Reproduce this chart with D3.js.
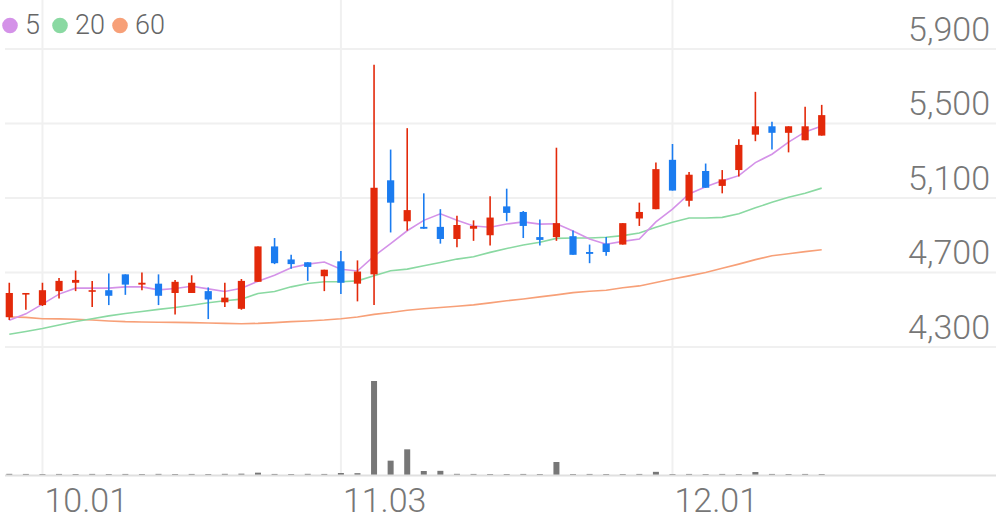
<!DOCTYPE html>
<html><head><meta charset="utf-8">
<script src="https://cdn.jsdelivr.net/npm/d3@7"></script>
<style>
html,body{margin:0;padding:0;background:#fff;}
svg{display:block;font-family:Roboto,"Noto Sans",sans-serif;}
svg text{font-family:Roboto,"Noto Sans",sans-serif;}
</style></head>
<body><svg id="c" width="996" height="519"></svg>
<script>
const dates = ["09.29","09.30","10.01","10.02","10.10","10.13","10.14","10.15","10.16","10.17",
"10.20","10.21","10.22","10.23","10.24","10.27","10.28","10.29","10.30","10.31",
"11.03","11.04","11.05","11.06","11.07","11.10","11.11","11.12","11.13","11.14",
"11.17","11.18","11.19","11.20","11.21","11.24","11.25","11.26","11.27","11.28",
"12.01","12.02","12.03","12.04","12.05","12.08","12.09","12.10","12.11","12.12"];
const openP  = [4460,4585,4525,4600,4645,4600,4605,4690,4635,4640,4590,4590,4600,4540,4505,4650,4840,4770,4755,4680,4760,4640,4690,5195,4975,4945,4945,4880,4935,4900,5055,5025,4890,4890,4895,4810,4855,4850,4990,5040,5305,5085,5245,5165,5250,5440,5485,5450,5410,5435];
const highP  = [4645,4590,4645,4670,4710,4655,4695,4690,4700,4690,4660,4685,4620,4645,4665,4840,4885,4795,4755,4715,4815,4765,5815,5360,5475,5125,5040,5005,4980,5110,5150,5030,4985,5370,4925,4850,4890,4965,5075,5290,5390,5240,5285,5250,5415,5670,5510,5485,5590,5600];
const lowP   = [4445,4500,4520,4560,4600,4515,4525,4580,4605,4525,4475,4590,4450,4515,4500,4650,4745,4720,4655,4600,4585,4545,4525,4915,4925,4935,4855,4835,4870,4845,4975,4885,4845,4870,4795,4750,4790,4850,4950,5040,5140,5055,5155,5125,5215,5405,5360,5345,5410,5435];
const closeP = [4590,4590,4605,4655,4660,4605,4575,4635,4645,4575,4650,4645,4555,4565,4655,4840,4750,4745,4730,4715,4645,4705,5155,5075,5035,4935,4880,4955,4950,4995,5020,4950,4875,4965,4795,4800,4810,4965,5025,5255,5140,5225,5155,5200,5385,5485,5450,5485,5485,5545];
const volume = [35000,32000,30000,32000,30000,33000,30000,32000,30000,34000,30000,32000,30000,35000,40000,70000,32000,30000,35000,32000,60000,55000,2820000,430000,770000,120000,125000,35000,32000,30000,30000,32000,30000,390000,30000,32000,30000,30000,32000,95000,30000,32000,30000,32000,30000,90000,32000,30000,32000,30000];
const ma5  = [4444,4478,4530,4584,4616,4616,4616,4623,4623,4607,4614,4626,4612,4598,4615,4653,4685,4725,4745,4756,4717,4708,4788,4855,4924,4980,5015,4980,4950,4943,4960,4972,4960,4962,4923,4880,4852,4867,4880,4972,5040,5122,5160,5192,5220,5290,5335,5400,5455,5487];
const ma20 = [4368,4383,4399,4418,4437,4452,4467,4480,4491,4502,4512,4524,4538,4548,4557,4587,4598,4623,4641,4650,4650,4655,4682,4709,4718,4736,4754,4772,4785,4808,4829,4848,4862,4883,4885,4885,4889,4898,4912,4943,4970,4993,4993,4996,5015,5047,5077,5104,5126,5153];
const ma60 = [4461,4459,4452,4451,4449,4445,4440,4436,4434,4433,4432,4431,4429,4427,4425,4427,4431,4436,4440,4445,4452,4461,4475,4485,4497,4505,4512,4519,4526,4537,4548,4558,4569,4580,4592,4599,4605,4618,4628,4646,4665,4682,4700,4723,4745,4769,4790,4801,4812,4822];
const priceTicks = [4300,4700,5100,5500,5900];
const dateTicks = ["10.01","11.03","12.01"];
const legendItems = [{label:"5",color:"#d492e8"},{label:"20",color:"#8ad9a2"},{label:"60",color:"#f7a078"}];

const UP = "#e3290a", DOWN = "#1b7cf0";
const FONT = 'Roboto, "Noto Sans", sans-serif';
const svg = d3.select("#c");
const x = d3.scaleBand().domain(dates).range([1, 830]).padding(0);
const cx = d => x(d) + x.bandwidth()/2;
const y = d3.scaleLinear().domain([4300, 5900]).range([347, 49]);
const vy = d3.scaleLinear().domain([0, d3.max(volume)]).range([475, 381]);

const data = dates.map((d,i)=>({d, o:openP[i], h:highP[i], l:lowP[i], c:closeP[i], v:volume[i]}));

// grid
const g = svg.append("g");
g.selectAll("line.h").data(priceTicks).join("line")
  .attr("x1",5).attr("x2",996).attr("y1",d=>y(d)).attr("y2",d=>y(d))
  .attr("stroke","#f0f0f0").attr("stroke-width",2);
g.selectAll("line.v").data(dateTicks).join("line")
  .attr("x1",d=>cx(d)).attr("x2",d=>cx(d)).attr("y1",0).attr("y2",475)
  .attr("stroke","#f0f0f0").attr("stroke-width",2);

// volume
svg.append("g").selectAll("rect").data(data).join("rect")
  .attr("x",d=>cx(d.d)-3).attr("width",6)
  .attr("y",d=>vy(d.v)).attr("height",d=>475-vy(d.v))
  .attr("fill","#777");
svg.append("line").attr("x1",5).attr("x2",996).attr("y1",475.5).attr("y2",475.5)
  .attr("stroke","#e0e0e0").attr("stroke-width",2);

// MA lines
const line = arr => d3.line().x((v,i)=>cx(dates[i])).y(v=>y(v))(arr);
[[ma60,legendItems[2].color],[ma20,legendItems[1].color],[ma5,legendItems[0].color]].forEach(([arr,col])=>{
  svg.append("path").attr("d",line(arr)).attr("fill","none").attr("stroke",col).attr("stroke-width",1.6);
});

// candles
const cg = svg.append("g").selectAll("g").data(data).join("g");
cg.append("line").attr("x1",d=>cx(d.d)).attr("x2",d=>cx(d.d))
  .attr("y1",d=>y(d.h)).attr("y2",d=>y(d.l))
  .attr("stroke",d=>d.c>=d.o?UP:DOWN).attr("stroke-width",1.6);
cg.append("rect").attr("x",d=>cx(d.d)-3.6).attr("width",7.2)
  .attr("y",d=>y(Math.max(d.o,d.c)))
  .attr("height",d=>Math.max(1.6, Math.abs(y(d.o)-y(d.c))))
  .attr("fill",d=>d.c>=d.o?UP:DOWN);

// y axis
const ya = svg.append("g").attr("transform","translate(990,0)")
  .call(d3.axisRight(y).tickValues(priceTicks).tickFormat(d3.format(",")).tickSize(0))
  .attr("font-family",null).attr("font-size",null);
ya.select(".domain").remove();
ya.selectAll("text").attr("x",0).attr("dy","-9").attr("text-anchor","end")
  .attr("fill","#777").style("font-family",FONT).style("font-size","34px").style("font-weight","300")
  .attr("y",0);

// x axis
const xa = svg.append("g").attr("transform","translate(0,475)")
  .call(d3.axisBottom(x).tickValues(dateTicks).tickSize(0))
  .attr("font-family",null).attr("font-size",null);
xa.select(".domain").remove();
xa.selectAll("text").attr("text-anchor","start").attr("x",2).attr("y",37).attr("dy",0)
  .attr("fill","#777").style("font-family",FONT).style("font-size","34px").style("font-weight","300");

// legend
const lg = svg.append("g");
const offs = [10, 60, 120];
legendItems.forEach((it,i)=>{
  lg.append("circle").attr("cx",offs[i]).attr("cy",25.5).attr("r",7.8).attr("fill",it.color);
  lg.append("text").attr("x",offs[i]+15).attr("y",34).text(it.label)
    .attr("fill","#666").style("font-family",FONT).style("font-size","27px").style("font-weight","300");
});
</script></body></html>
